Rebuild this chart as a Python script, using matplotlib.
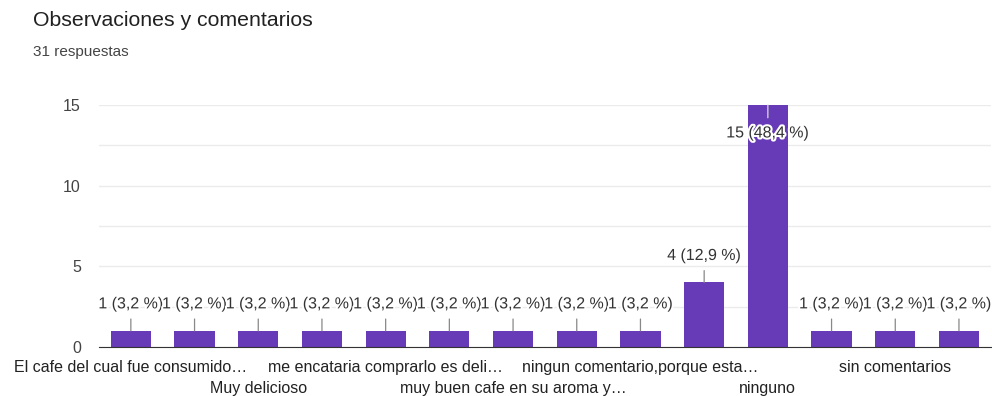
import matplotlib
matplotlib.use("Agg")
import matplotlib.pyplot as plt
import matplotlib.patheffects as pe

plt.rcParams['font.family'] = ['Liberation Sans', 'DejaVu Sans']

# data
categories = [
    "El cafe del cual fue consumido…", "", "Muy delicioso", "",
    "me encataria comprarlo es deli…", "", "muy buen cafe en su aroma y…", "",
    "ningun comentario,porque esta…", "", "ninguno", "",
    "sin comentarios", "",
]
counts = [1, 1, 1, 1, 1, 1, 1, 1, 1, 4, 15, 1, 1, 1]
percents = ["3,2", "3,2", "3,2", "3,2", "3,2", "3,2", "3,2", "3,2", "3,2",
            "12,9", "48,4", "3,2", "3,2", "3,2"]
total = 31

bar_color = "#673ab7"
fig = plt.figure(figsize=(9.92, 3.96), dpi=100)
ax = fig.add_axes([0.0998, 0.1237, 0.899, 0.6113])

x = list(range(len(counts)))
ax.bar(x, counts, width=0.63, color=bar_color, zorder=3)

ax.set_xlim(-0.5, len(counts) - 0.5)
ax.set_ylim(0, 15)
ax.set_yticks([0, 5, 10, 15])
ax.set_yticks([2.5, 7.5, 12.5], minor=True)
ax.grid(axis='y', which='both', color='#ebebeb', lw=1, zorder=0)
ax.tick_params(axis='y', which='both', length=0, pad=13, labelsize=11.5, labelcolor='#444444')

# category labels alternate on two rows: first row as major ticks, second as minor
row1 = [i for i in x if i % 4 == 0]
row2 = [i for i in x if i % 4 == 2]
ax.set_xticks(row1)
ax.set_xticklabels([categories[i] for i in row1], fontsize=11.5, color='#222222')
ax.set_xticks(row2, minor=True)
ax.set_xticklabels([categories[i] for i in row2], minor=True, fontsize=11.5, color='#222222')
ax.tick_params(axis='x', which='major', length=0, pad=9.5)
ax.tick_params(axis='x', which='minor', length=0, pad=24.5)

for s in ['top', 'right', 'left']:
    ax.spines[s].set_visible(False)
ax.spines['bottom'].set_color('#333333')
ax.spines['bottom'].set_zorder(4)

halo = [pe.withStroke(linewidth=3, foreground='white')]
for i, (v, p) in enumerate(zip(counts, percents)):
    if v == max(counts):
        off, lc = -28, '#dddddd'
    else:
        off, lc = 27, '#888888'
    ax.annotate(f"{v} ({p} %)", xy=(i, v), xytext=(0, off), textcoords='offset pixels',
                ha='center', va='center', fontsize=11.5, color='#333333', zorder=5,
                path_effects=halo, annotation_clip=False,
                arrowprops=dict(arrowstyle='-', color=lc, lw=0.9, shrinkA=3.5, shrinkB=0))

fig.text(33 / 992, 1 - 20 / 396, "Observaciones y comentarios", fontsize=15.3,
         color='#212121', va='center', ha='left')
fig.text(33 / 992, 1 - 52 / 396, f"{total} respuestas", fontsize=11,
         color='#444444', va='center', ha='left')

fig.savefig("out.png", dpi=100, facecolor='white')
